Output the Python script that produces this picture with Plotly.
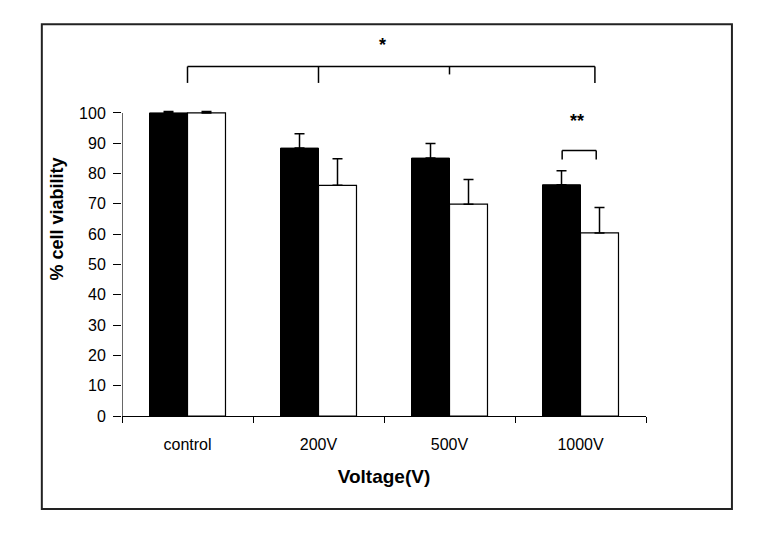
import plotly.graph_objects as go

categories = ["control", "200V", "500V", "1000V"]
black_values = [100, 88.4, 85.1, 76.3]
black_errors = [0.5, 4.7, 4.8, 4.6]
white_values = [100, 76.1, 69.9, 60.4]
white_errors = [0.5, 8.8, 8.1, 8.4]
y_ticks = list(range(0, 101, 10))

FONT = "Liberation Sans, Arial, sans-serif"

fig = go.Figure()
fig.add_trace(go.Bar(
    x=categories, y=black_values, name="A",
    marker=dict(color="black", line=dict(color="black", width=1)),
    error_y=dict(type="data", symmetric=False, array=black_errors,
                 arrayminus=[0] * len(black_errors),
                 color="black", thickness=1.5, width=5),
))
fig.add_trace(go.Bar(
    x=categories, y=white_values, name="B",
    marker=dict(color="white", line=dict(color="black", width=1.2)),
    error_y=dict(type="data", symmetric=False, array=white_errors,
                 arrayminus=[0] * len(white_errors),
                 color="black", thickness=1.5, width=5),
))

line = dict(color="black", width=1.5)
shapes = []
# y axis line (only up to 100)
shapes.append(dict(type="line", xref="x", yref="y", x0=-0.5, x1=-0.5, y0=0, y1=100,
                   line=dict(color="black", width=1.2)))
# overall significance bracket
shapes.append(dict(type="line", xref="x", yref="y", x0=0, x1=3.11, y0=115.3, y1=115.3, line=line))
for xv, ylow in [(0, 109.9), (1, 109.9), (2, 112.7), (3.11, 109.9)]:
    shapes.append(dict(type="line", xref="x", yref="y", x0=xv, x1=xv, y0=ylow, y1=115.3, line=line))
# 1000V bracket
shapes.append(dict(type="line", xref="x", yref="y", x0=2.86, x1=3.12, y0=87.6, y1=87.6, line=line))
for xv in [2.86, 3.12]:
    shapes.append(dict(type="line", xref="x", yref="y", x0=xv, x1=xv, y0=84.6, y1=87.6, line=line))
# outer frame
shapes.append(dict(type="rect", xref="paper", yref="paper", x0=-0.153, x1=1.164, y0=-0.236, y1=0.994,
                   line=dict(color="#222", width=2)))

annotations = [
    dict(x=1.49, y=122.4, xref="x", yref="y", text="<b>*</b>", showarrow=False,
         font=dict(family=FONT, size=18, color="black")),
    dict(x=2.97, y=97.4, xref="x", yref="y", text="<b>**</b>", showarrow=False,
         font=dict(family=FONT, size=18, color="black")),
]

fig.update_layout(
    width=761, height=533,
    margin=dict(l=122, r=115, t=22, b=117),
    paper_bgcolor="white", plot_bgcolor="white",
    barmode="group", bargap=0.42, bargroupgap=0,
    showlegend=False,
    font=dict(family=FONT, size=16, color="black"),
    shapes=shapes, annotations=annotations,
    xaxis=dict(
        range=[-0.5, 3.5], showline=True, linecolor="black", linewidth=1.2,
        ticks="outside", tickson="boundaries", ticklen=6, tickcolor="black",
        showgrid=False, zeroline=False, ticklabelstandoff=14,
        tickfont=dict(family=FONT, size=16, color="black"),
        title=dict(text="<b>Voltage(V)</b>", standoff=17,
                   font=dict(family=FONT, size=19, color="black")),
    ),
    yaxis=dict(
        range=[0, 130], showline=False, tickvals=y_ticks,
        ticks="outside", ticklen=8, tickcolor="black",
        showgrid=False, zeroline=False, ticklabelstandoff=4,
        tickfont=dict(family=FONT, size=16, color="black"),
        title=dict(text="<b>% cell viability</b>", standoff=10,
                   font=dict(family=FONT, size=18, color="black")),
    ),
)

fig.write_html("out.html", config={"displayModeBar": False},
               post_script="document.body.style.margin='0';")
